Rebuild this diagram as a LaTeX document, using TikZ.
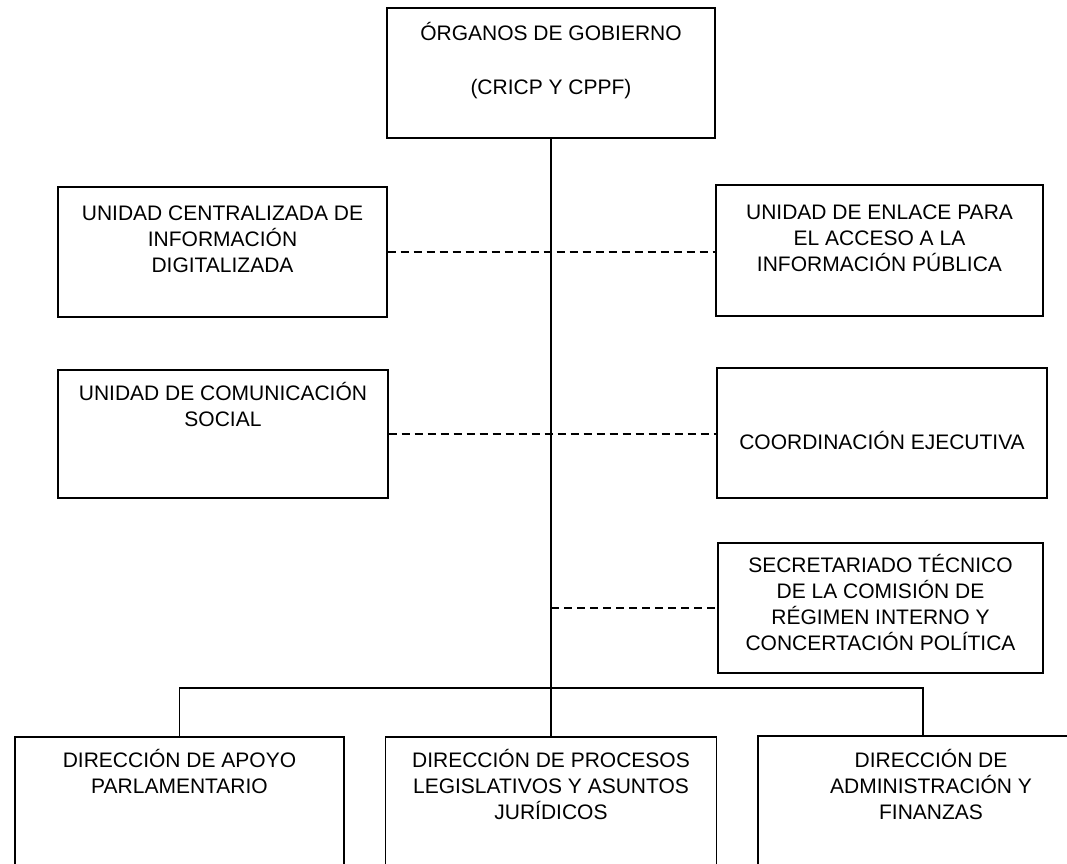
\documentclass[tikz,border=0pt]{standalone}
\usepackage{fontspec}
\setmainfont{Liberation Sans}

% caja de texto: ancho, alto, linea base de la primera fila, texto
\newcommand{\cajatxt}[4]{\parbox[c][#2pt][t]{#1pt}{\centering\rule{0pt}{#3pt}#4}}

\begin{document}
\begin{tikzpicture}[x=1pt, y=-1pt,
	every node/.style={font=\fontsize{21}{26}\selectfont},
	caja/.style={draw, rectangle, inner sep=0pt, line width=1.3pt},
	linea/.style={line width=1.3pt},
	asesoria/.style={line width=1.3pt, dash pattern=on 8pt off 5pt}]
	\clip (0,0) rectangle (1067,863);

	\node[caja] (gobierno) at (551,73)
		{\cajatxt{328}{130}{32.5}{ÓRGANOS DE GOBIERNO\\[28pt](CRICP Y CPPF)}};

	\node[caja] (digital) at (222.5,252)
		{\cajatxt{329}{130}{33.5}{UNIDAD CENTRALIZADA DE\\INFORMACIÓN\\DIGITALIZADA}};
	\node[caja] (enlace) at (879.5,250.5)
		{\cajatxt{327}{131}{34.5}{UNIDAD DE ENLACE PARA\\EL ACCESO A LA\\INFORMACIÓN PÚBLICA}};
	\node[caja] (comsocial) at (223,434)
		{\cajatxt{330}{128}{30.5}{UNIDAD DE COMUNICACIÓN\\SOCIAL}};
	\node[caja] (coordinacion) at (882,433)
		{\cajatxt{330}{130}{81.5}{COORDINACIÓN EJECUTIVA}};
	\node[caja] (secretariado) at (880.5,608)
		{\cajatxt{325}{130}{29.5}{SECRETARIADO TÉCNICO\\DE LA COMISIÓN DE\\RÉGIMEN INTERNO Y\\CONCERTACIÓN POLÍTICA}};

	\node[caja] (apoyo) at (179.5,802)
		{\cajatxt{329}{130}{30.5}{DIRECCIÓN DE APOYO\\PARLAMENTARIO}};
	\node[caja] (procesos) at (551,802)
		{\cajatxt{331}{130}{30.5}{DIRECCIÓN DE PROCESOS\\LEGISLATIVOS Y ASUNTOS\\JURÍDICOS}};
	\node[caja] (admin) at (931,801)
		{\cajatxt{346}{130}{31.5}{DIRECCIÓN DE\\ADMINISTRACIÓN Y\\FINANZAS}};

	\coordinate (esquina) at (923,688);

	\draw[linea] (gobierno.south) -- (procesos.north);
	\draw[linea] (apoyo.north) |- (esquina) -- (esquina |- admin.north);

	\draw[asesoria] (digital.east) -- (digital.east -| enlace.west);
	\draw[asesoria] (comsocial.east) -- (comsocial.east -| coordinacion.west);
	\draw[asesoria] (gobierno.south |- secretariado.west) -- (secretariado.west);
\end{tikzpicture}
\end{document}
